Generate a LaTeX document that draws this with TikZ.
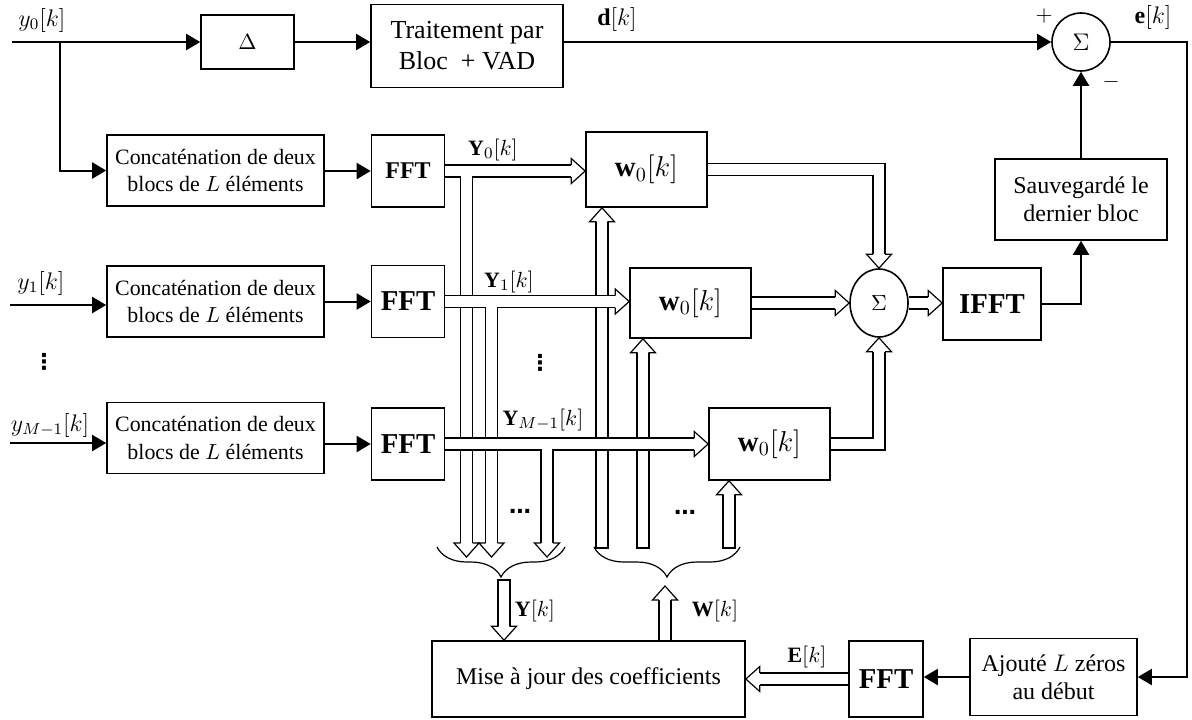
\documentclass[tikz,border=0pt,11pt]{standalone}
\usepackage{fontspec}
\setmainfont{Liberation Serif}
\newfontfamily\symfont{DejaVu Sans}
\usepackage{tikz}
\usetikzlibrary{positioning,arrows.meta,calc,shapes.geometric,%
  decorations.pathreplacing}
% pointe creuse pour les liaisons vectorielles (trait double)
\pgfdeclarearrow{
  name = VecHead,
  setup code = {
    \pgfarrowssettipend{0pt}
    \pgfarrowssetlineend{-7pt}
    \pgfarrowssetbackend{-7pt}
    \pgfarrowshullpoint{0pt}{0pt}
    \pgfarrowsupperhullpoint{-7pt}{6.25pt}
  },
  drawing code = {
    \pgfsetlinewidth{0.6pt}
    \pgfsetmiterjoin
    \pgfsetfillcolor{white}
    \pgfpathmoveto{\pgfqpoint{-7pt}{3pt}}
    \pgfpathlineto{\pgfqpoint{-7pt}{6.25pt}}
    \pgfpathlineto{\pgfqpoint{0pt}{0pt}}
    \pgfpathlineto{\pgfqpoint{-7pt}{-6.25pt}}
    \pgfpathlineto{\pgfqpoint{-7pt}{-3pt}}
    \pgfusepathqfillstroke
  }
}
\tikzset{
  blk-box/.style={draw,line width=0.8pt,align=center,inner sep=1pt},
  concat-box/.style={blk-box,minimum width=108.5pt,minimum height=35.5pt},
  fft-box/.style={blk-box,minimum width=36.5pt,minimum height=36pt,
    font=\Large\bfseries},
  w-box/.style={blk-box,minimum width=60.5pt,minimum height=36pt,font=\Large},
  sum-node/.style={draw,line width=0.8pt,ellipse,inner sep=0pt},
  sig-arrow/.style={-{Triangle[length=7pt,width=8pt]},line width=1pt},
  vec-arrow/.style={double,double distance=5.4pt,line width=0.6pt,-{VecHead}},
  vec-bar/.style={vec-arrow,line cap=rect},
  vec-edge/.style={line width=0.6pt},
  brace-line/.style={line width=0.6pt,decorate,
    decoration={brace,mirror,amplitude=15pt}},
  dots-lbl/.style={font=\symfont\bfseries\normalsize},
}
\begin{document}
\begin{tikzpicture}[x=0.5pt,y=-0.5pt]
  \useasboundingbox (0,0) rectangle (1192,719);
  % voie du signal desire
  \coordinate (in0) at (12,42);
  \coordinate (split0) at (60,42);
  \node[blk-box,minimum width=46.5pt,minimum height=27pt] (delta) at (247.5,42) {$\Delta$};
  \node[blk-box,minimum width=96pt,minimum height=41.5pt,
    font=\fontsize{13}{15.5}\selectfont] (trait) at (467,46) {Traitement par\\Bloc \ + VAD};
  \node[sum-node,minimum width=29pt,minimum height=29pt,font=\large] (sum1) at (1081,42) {$\Sigma$};
  \node[blk-box,minimum width=86pt,minimum height=40.5pt,font=\large] (sauv) at (1081,199.5) {Sauvegard\'e le\\dernier bloc};
  \coordinate (eturn) at (1187,42);

  % les M branches
  \foreach \i/\y/\yf/\fs in {0/170.5/171/\large,1/301.5/301.5/\Large,2/438/444/\Large} {
    \node[concat-box] (concat\i) at (215.5,\y) {Concat\'enation de deux\\blocs de $L$ \'el\'ements};
    \node[fft-box,font=\fs\bfseries] (fft\i) at (408,\yf) {FFT};
    \draw[sig-arrow] (fft\i.west -| concat\i.east) -- (fft\i.west);
  }
  \coordinate (in1) at (10,305);
  \coordinate (in2) at (10,443);

  \node[w-box,minimum height=37.5pt] (w0) at (646.5,169.5) {$\mathbf{w}_0[k]$};
  \node[w-box,minimum height=35pt] (w1) at (690.5,303) {$\mathbf{w}_0[k]$};
  \node[w-box] (w2) at (769.5,444) {$\mathbf{w}_0[k]$};
  \node[sum-node,minimum width=29pt,minimum height=34pt] (sum2) at (879,303) {$\Sigma$};
  \node[fft-box,minimum width=49pt] (ifft) at (992,304) {IFFT};

  % mise a jour
  \node[blk-box,minimum width=156.5pt,minimum height=38pt,font=\large] (mise) at (588.5,679) {Mise \`a jour des coefficients};
  \node[fft-box,minimum width=37pt,minimum height=38pt] (fftE) at (886,679) {FFT};
  \node[blk-box,minimum width=83.5pt,minimum height=38.5pt,font=\large] (ajout) at (1053.5,677) {Ajout\'e $L$ z\'eros\\au d\'ebut};

  % liaisons scalaires
  \draw[sig-arrow] (in0) -- (delta.west);
  \draw[sig-arrow] (split0) |- (concat0.west);
  \draw[sig-arrow] (in1) -- (in1 -| concat1.west);
  \draw[sig-arrow] (in2) -- (in2 -| concat2.west);
  \draw[sig-arrow] (delta.east) -- (delta.east -| trait.west);
  \draw[sig-arrow] (trait.east |- sum1) -- (sum1.west);
  \draw[sig-arrow] (sum1.south |- sauv.north) -- (sum1.south);
  \draw[sig-arrow] (ifft.east) -| (sauv.south);
  \draw[sig-arrow] (sum1.east) -- (eturn) |- (ajout.east);
  \draw[sig-arrow] (ajout.west) -- (ajout.west -| fftE.east);

  % liaisons vectorielles
  \coordinate (yv0) at (466.5,557);
  \coordinate (yv1) at (491.5,557);
  \coordinate (yv2) at (547,557);
  \coordinate (wb0) at (602,542);
  \coordinate (wb1) at (643,542);
  \coordinate (wb2) at (729,542);
  \foreach \i in {0,1,2} {
    \draw[vec-arrow] (fft\i.east) -- (fft\i.east -| w\i.west);
    \draw[vec-arrow] ($(yv\i |- fft\i.east)+(0,-2.7pt)$) -- (yv\i);
    \draw[vec-bar] (wb\i) -- (wb\i |- w\i.south);
  }
  % croisements : les traits horizontaux restent visibles dans les bus verticaux
  \begin{scope}
    \clip (461.1,250) rectangle (471.9,480) (596.6,250) rectangle (607.4,480)
          (486.1,400) rectangle (496.9,480) (637.6,400) rectangle (648.4,480);
    \foreach \i in {1,2} \foreach \s in {3pt,-3pt}
      \draw[vec-edge] ($(fft\i.east)+(0,\s)$) -- ($(fft\i.east -| w\i.west)+(0,\s)$);
  \end{scope}
  \draw[vec-arrow] (w0.east) -| (sum2.north);
  \draw[vec-arrow] (w1.east) -- (sum2.west);
  \draw[vec-arrow] (w2.east) -| (sum2.south);
  \draw[vec-arrow] (sum2.east) -- (sum2.east -| ifft.west);

  \coordinate (ybrace-l) at (437,547);
  \coordinate (ybrace-r) at (565,547);
  \coordinate (wbrace-l) at (594,547);
  \coordinate (wbrace-r) at (740,547);
  \draw[brace-line] (ybrace-l) -- (ybrace-r);
  \draw[brace-line] (wbrace-l) -- (wbrace-r);
  \coordinate (ybus) at (504,586);
  \coordinate (wbus) at (665,586);
  \draw[vec-bar] (ybus) -- (ybus |- mise.north);
  \draw[vec-arrow] (wbus |- mise.north) -- (wbus);
  \draw[vec-arrow] (fftE.west) -- (fftE.west -| mise.east);

  % etiquettes
  \node[font=\large] (lbl-y0) at (42,20) {$y_0[k]$};
  \node[font=\large] (lbl-d) at (617,19) {$\mathbf{d}[k]$};
  \node[font=\large] (lbl-e) at (1153,17) {$\mathbf{e}[k]$};
  \node (lbl-plus) at (1044,16) {$+$};
  \node (lbl-minus) at (1111,82) {$-$};
  \node[font=\large] (lbl-y1) at (41,283) {$y_1[k]$};
  \node[dots-lbl] (lbl-vd) at (44,362) {⋮};
  \node[font=\large] (lbl-yM) at (50,425) {$y_{M-1}[k]$};
  \node (lbl-Y0) at (493,150) {$\mathbf{Y}_0[k]$};
  \node (lbl-Y1) at (509,282) {$\mathbf{Y}_1[k]$};
  \node[dots-lbl] (lbl-vdY) at (540,363) {⋮};
  \node (lbl-YM) at (543,420) {$\mathbf{Y}_{M-1}[k]$};
  \node[dots-lbl] (lbl-dotsY) at (520,511) {…};
  \node[dots-lbl] (lbl-dotsW) at (685,512) {…};
  \node (lbl-Y) at (535,611) {$\mathbf{Y}[k]$};
  \node (lbl-W) at (715,611) {$\mathbf{W}[k]$};
  \node (lbl-E) at (807,657) {$\mathbf{E}[k]$};
\end{tikzpicture}
\end{document}
